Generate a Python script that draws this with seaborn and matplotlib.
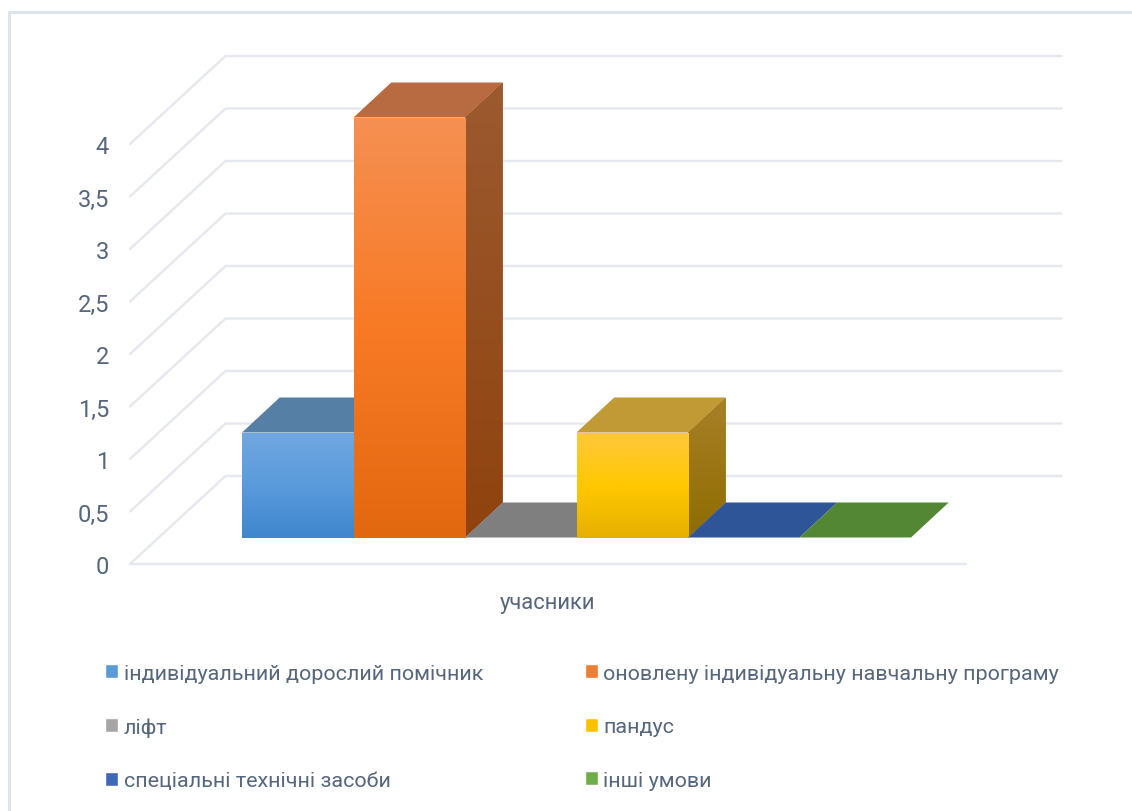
import numpy as np
import matplotlib
matplotlib.use("Agg")
import matplotlib.pyplot as plt
import seaborn as sns
from matplotlib.colors import LinearSegmentedColormap
from matplotlib.lines import Line2D
from matplotlib.patches import Patch, Polygon

categories = ["індивідуальний дорослий помічник", "оновлену індивідуальну навчальну програму",
              "ліфт", "пандус", "спеціальні технічні засоби", "інші умови"]
values = [1, 4, 0, 1, 0, 0]
ticks = [0, 0.5, 1, 1.5, 2, 2.5, 3, 3.5, 4]
tick_labels = ["0", "0,5", "1", "1,5", "2", "2,5", "3", "3,5", "4"]
group_label = ["учасники"]

legend_colors = ["#5B9BD5", "#ED7D31", "#A5A5A5", "#FFC000", "#3F67B8", "#6FAD47"]
top_colors = ["#567FA6", "#B86A40", "#7F7F7F", "#C19A36", "#2E5597", "#548733"]
front_stops = [["#70A7E0", "#5A9BDC", "#3F86CC"], ["#F59053", "#F87A25", "#E2680F"], None,
               ["#FFC83D", "#FFC800", "#E6B000"], None, None]
side_stops = [["#567FA6", "#3F6C98"], ["#9C5A30", "#8F430E"], None,
              ["#A87F28", "#8F6D00"], None, None]

text_color = "#56667C"
grid_color = "#E5E8EF"

sns.set_theme(style="white")
plt.rcParams["font.family"] = ["Roboto", "DejaVu Sans"]

W, H = 1132, 812
fig = plt.figure(figsize=(W / 100, H / 100), dpi=100, facecolor="white")


def axes_px(left, top, right, bottom):
    return fig.add_axes([left / W, 1 - bottom / H, (right - left) / W, (bottom - top) / H])


# outer frame of the chart area
fig.add_artist(Line2D([9 / W, 9 / W, 1], [0, 1 - 13 / H, 1 - 13 / H], color="#DEE4EC", lw=2.2))

# walls: front plane carries the ticks, the gridlines run back and across
ax_wall = axes_px(130, 145, 966, 565)
ax_wall.set_xlim(0, 1)
ax_wall.set_ylim(0, 4)
wall_dx = 95.5 / 836
wall_dy = 88 / 105
for t in ticks:
    ax_wall.plot([0, wall_dx, 1 + wall_dx], [t, t + wall_dy, t + wall_dy],
                 color=grid_color, lw=1.7, clip_on=False, solid_joinstyle="miter")
ax_wall.plot([0, 1], [0, 0], color=grid_color, lw=1.7, clip_on=False)
ax_wall.set_yticks(ticks)
ax_wall.set_yticklabels(tick_labels, fontsize=17, color=text_color)
ax_wall.set_xticks([0.5])
ax_wall.set_xticklabels(group_label, fontsize=15.8, color=text_color)
ax_wall.tick_params(axis="y", length=0, pad=15)
ax_wall.tick_params(axis="x", length=0, pad=20)
sns.despine(ax=ax_wall, left=True, bottom=True)
ax_wall.patch.set_alpha(0)

# bars: front faces from seaborn, depth added on top of them
bar_w = 111.5
ax = axes_px(242, 538.5 - 525, 242 + 7 * bar_w, 538.5)
sns.barplot(x=categories, y=values, hue=categories, palette=legend_colors, hue_order=categories,
            order=categories, width=1, saturation=1, dodge=False, legend=False, linewidth=0, ax=ax)
ax.set_xlim(-0.5, 6.5)
ax.set_ylim(0, 5)
ax.axis("off")
ax.patch.set_alpha(0)

dx = 37.7 / bar_w
dy = 35 / 105
bars = sorted(ax.patches, key=lambda p: p.get_x())


def gradient(stops, extent, clip, z):
    cmap = LinearSegmentedColormap.from_list("face", stops)
    im = ax.imshow(np.linspace(0, 1, 256).reshape(-1, 1), cmap=cmap, aspect="auto",
                   extent=extent, origin="upper", zorder=z)
    im.set_clip_path(clip)


for i, p in enumerate(bars):
    x0 = p.get_x()
    x1 = x0 + p.get_width()
    h = p.get_height()
    z = 3 + i * 3
    top = Polygon([(x0, h), (x1, h), (x1 + dx, h + dy), (x0 + dx, h + dy)],
                  facecolor=top_colors[i], edgecolor="none", zorder=z + 1)
    ax.add_patch(top)
    p.set_zorder(z + 2)
    if h > 0:
        side = Polygon([(x1, 0), (x1 + dx, dy), (x1 + dx, h + dy), (x1, h)],
                       facecolor=side_stops[i][1], edgecolor="none", zorder=z)
        ax.add_patch(side)
        gradient(side_stops[i], [x1, x1 + dx, 0, h + dy], side, z)
        gradient(front_stops[i], [x0, x1, 0, h], p, z + 2)
ax.set_xlim(-0.5, 6.5)
ax.set_ylim(0, 5)

handles = [Patch(facecolor=c, label=n) for c, n in zip(legend_colors, categories)]
order = [0, 2, 4, 1, 3, 5]
leg = fig.legend([handles[i] for i in order], [categories[i] for i in order], ncols=2,
                 loc="upper left", bbox_to_anchor=(105 / W, 1 - 665 / H), frameon=False,
                 fontsize=15.45, labelcolor=text_color, handlelength=0.62, handleheight=0.62,
                 handletextpad=0.26, labelspacing=1.6, columnspacing=4.72,
                 borderpad=0, borderaxespad=0)

fig.savefig("out.png", dpi=100)
plt.close(fig)
